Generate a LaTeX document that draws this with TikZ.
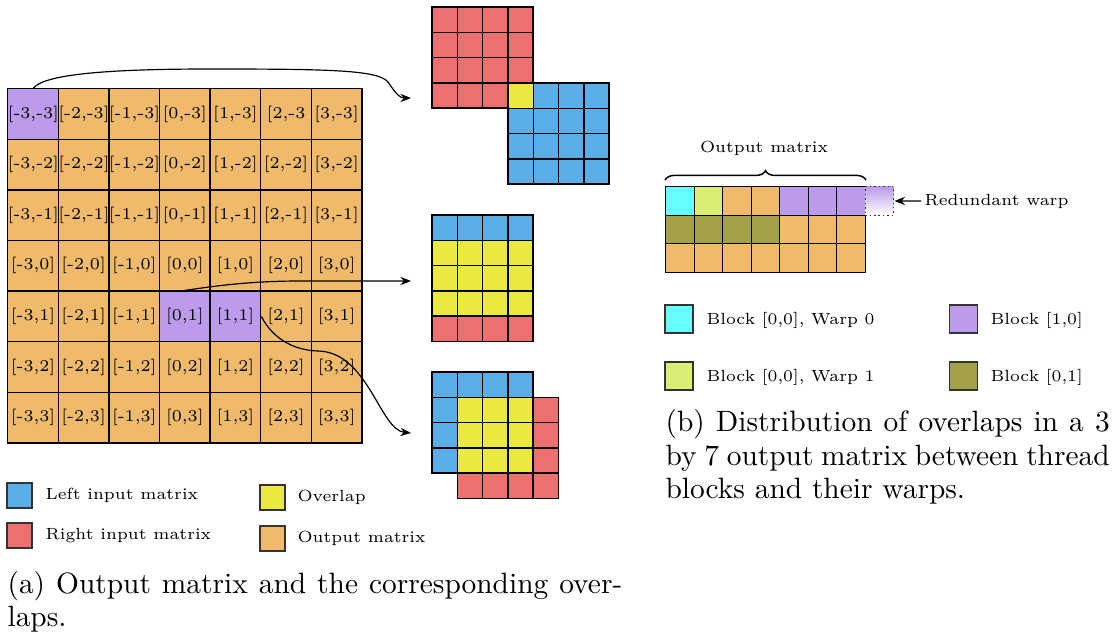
\documentclass[tikz,border=0pt]{standalone}
\usetikzlibrary{arrows.meta,decorations.pathreplacing,shadings}

\definecolor{leftc}{RGB}{90,174,232}
\definecolor{rightc}{RGB}{235,112,110}
\definecolor{overc}{RGB}{233,233,65}
\definecolor{outc}{RGB}{239,186,107}
\definecolor{purp}{RGB}{188,155,236}
\definecolor{warpzero}{RGB}{102,255,255}
\definecolor{warpone}{RGB}{217,238,114}
\definecolor{blockb}{RGB}{163,160,74}

\newcommand{\smallfnt}{\fontsize{5.5}{6.6}\selectfont}
\newcommand{\cellfnt}{\fontsize{5.6}{6.7}\selectfont}
\newcommand{\capfnt}{\fontsize{10}{12}\selectfont}

\begin{document}
\begin{tikzpicture}[x=0.34pt,y=-0.34pt,
  bigcell/.style={draw=black, line width=0.5pt, inner sep=0pt, minimum size=17.2pt, anchor=north west, font=\cellfnt},
  smallcell/.style={draw=black, line width=0.5pt},
  bcell/.style={draw=black, line width=0.5pt, inner sep=0pt, minimum size=9.69pt, anchor=north west},
  keyA/.style={draw=black!80, line width=0.5pt, inner sep=0pt, minimum size=8.5pt},
  keyB/.style={draw=black!80, line width=0.5pt, inner sep=0pt, minimum size=9.52pt},
  keytext/.style={anchor=west, inner sep=0pt, font=\smallfnt},
  captext/.style={anchor=base west, inner sep=0pt, font=\capfnt},
  link/.style={line width=0.4pt, -{Stealth[length=3.6pt,width=2.8pt]}}
]
\useasboundingbox (0,0) rectangle (1115,636);

% ---- 7x7 output matrix with index labels ----
\foreach \r in {-3,...,3}{
  \foreach \c in {-3,...,3}{
    \def\fc{outc}
    \ifnum\c=-3 \ifnum\r=-3 \def\fc{purp}\fi\fi
    \ifnum\r=1 \ifnum\c>-1 \ifnum\c<2 \def\fc{purp}\fi\fi\fi
    \node[bigcell, fill=\fc] (m\c\r) at ({7+(\c+3)*50.6},{88+(\r+3)*50.6})
      {\ifnum\c=2 \ifnum\r=-3 [2,-3\else[\c,\r]\fi\else[\c,\r]\fi};
  }
}

% ---- overlap for the corner element: right block above, left block below ----
\foreach \i in {0,...,3}{
  \foreach \j in {0,...,3}{
    \filldraw[smallcell, fill=rightc] ({432+\i*25.3},{7+\j*25.3}) rectangle ++(25.3,25.3);
  }
}
\foreach \i in {0,...,3}{
  \foreach \j in {0,...,3}{
    \filldraw[smallcell, fill=leftc] ({508+\i*25.3},{83+\j*25.3}) rectangle ++(25.3,25.3);
  }
}
\filldraw[smallcell, fill=overc] (508,83) rectangle ++(25.3,25.3);

% ---- overlap for a vertically shifted element ----
\foreach \i in {0,...,3}{
  \filldraw[smallcell, fill=leftc] ({432+\i*25.3},215) rectangle ++(25.3,25.3);
  \foreach \j in {1,2,3}{
    \filldraw[smallcell, fill=overc] ({432+\i*25.3},{215+\j*25.3}) rectangle ++(25.3,25.3);
  }
  \filldraw[smallcell, fill=rightc] ({432+\i*25.3},{215+4*25.3}) rectangle ++(25.3,25.3);
}

% ---- overlap for a diagonally shifted element ----
\foreach \i in {0,...,3}{
  \foreach \j in {0,...,3}{
    \filldraw[smallcell, fill=leftc] ({432+\i*25.3},{372+\j*25.3}) rectangle ++(25.3,25.3);
  }
}
\foreach \i in {0,...,3}{
  \foreach \j in {0,...,3}{
    \filldraw[smallcell, fill=rightc] ({457.3+\i*25.3},{397.3+\j*25.3}) rectangle ++(25.3,25.3);
  }
}
\foreach \i in {0,1,2}{
  \foreach \j in {0,1,2}{
    \filldraw[smallcell, fill=overc] ({457.3+\i*25.3},{397.3+\j*25.3}) rectangle ++(25.3,25.3);
  }
}

% ---- connectors from elements to their overlaps ----
\coordinate (t1) at (411,98);
\coordinate (t2) at (411,281);
\coordinate (t3) at (411,433);
\draw[link] (m-3-3.north) .. controls (45,74) and (110,69) .. (210,69)
  .. controls (330,69) and (378,70) .. (388,82)
  .. controls (396,94) and (400,98) .. (t1);
\draw[link] (m01.north) .. controls (215,286) and (250,281) .. (300,281) -- (t2);
\draw[link] (m11.east) .. controls (268,330) and (285,350) .. (318,351)
  .. controls (368,352) and (380,430) .. (t3);

% ---- legend (a) ----
\node[keyA, fill=leftc] (ka1) at (19.5,495.5) {};
\node[keytext] (la1) at (45,495.5) {Left input matrix};
\node[keyA, fill=rightc] (ka2) at (19.5,535.5) {};
\node[keytext] (la2) at (45,535.5) {Right input matrix};
\node[keyA, fill=overc] (ka3) at (272.5,497.5) {};
\node[keytext] (la3) at (297,497.5) {Overlap};
\node[keyA, fill=outc] (ka4) at (272.5,538.5) {};
\node[keytext] (la4) at (297,538.5) {Output matrix};

% ---- caption (a) ----
\node[captext] (capa1) at (7,593) {\makebox[209pt][s]{(a) Output matrix and the corresponding over-}};
\node[captext] (capa2) at (7,626) {laps.};

% ---- 3x7 output matrix split over blocks and warps ----
\foreach \c/\col in {0/warpzero,1/warpone,2/outc,3/outc,4/purp,5/purp,6/purp}{
  \node[bcell, fill=\col] (b0\c) at ({665+\c*28.5},186) {};
}
\foreach \c/\col in {0/blockb,1/blockb,2/blockb,3/blockb,4/outc,5/outc,6/outc}{
  \node[bcell, fill=\col] (b1\c) at ({665+\c*28.5},214.5) {};
}
\foreach \c in {0,...,6}{
  \node[bcell, fill=outc] (b2\c) at ({665+\c*28.5},243) {};
}
\node[bcell, draw=black!80, densely dotted, top color=purp, bottom color=white] (bx) at (864.5,186) {};

\draw[line width=0.5pt, decorate, decoration={brace, amplitude=3.2pt}]
  ([yshift=2pt]b00.north west) -- ([yshift=2pt]b06.north east);
\node[inner sep=0pt, font=\smallfnt] (omlab) at (764,148) {Output matrix};

\node[keytext] (rw) at (924,201) {Redundant warp};
\draw[link] ([xshift=-1pt]rw.west) -- (bx.east);

% ---- legend (b) ----
\node[keyB, fill=warpzero] (kb1) at (679,319) {};
\node[keytext] (lb1) at (706,320) {Block [0,0], Warp 0};
\node[keyB, fill=purp] (kb2) at (963.5,319) {};
\node[keytext] (lb2) at (990,320) {Block [1,0]};
\node[keyB, fill=warpone] (kb3) at (679,376) {};
\node[keytext] (lb3) at (706,377) {Block [0,0], Warp 1};
\node[keyB, fill=blockb] (kb4) at (963.5,376) {};
\node[keytext] (lb4) at (990,377) {Block [0,1]};

% ---- caption (b) ----
\node[captext] (capb1) at (665,431.7) {\makebox[151pt][s]{(b) Distribution of overlaps in a 3}};
\node[captext] (capb2) at (665,465) {\makebox[151pt][s]{by 7 output matrix between thread}};
\node[captext] (capb3) at (665,498) {blocks and their warps.};
\end{tikzpicture}
\end{document}
